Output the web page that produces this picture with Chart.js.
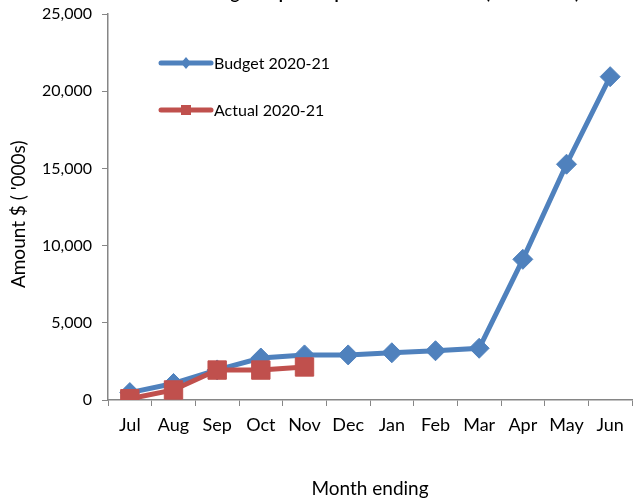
<!DOCTYPE html>
<html>
<head>
<meta charset="utf-8">
<script src="https://cdn.jsdelivr.net/npm/chart.js@4.4.1/dist/chart.umd.min.js"></script>
<style>
  html, body { margin: 0; padding: 0; background: #fff; overflow: hidden; }
  #wrap { width: 638px; height: 501px; overflow: hidden; }
</style>
</head>
<body>
<div id="wrap"><canvas id="capexChart" width="646" height="501"></canvas></div>
<script>
// chart data
const months = ["Jul", "Aug", "Sep", "Oct", "Nov", "Dec", "Jan", "Feb", "Mar", "Apr", "May", "Jun"];
const budget = [480, 1070, 1950, 2720, 2920, 2920, 3060, 3190, 3350, 9110, 15270, 20940];
const actual = [80, 650, 1940, 1940, 2140];
const yTicks = [0, 5000, 10000, 15000, 20000, 25000];

const titleText = "Budget Capital Expenditure vs Actual (Cumulative)";
const fontFamily = "Lato, 'Open Sans', sans-serif";

// title sits mostly above the canvas, only descenders show
const titlePlugin = {
  id: "cutTitle",
  afterDraw(chart) {
    const ctx = chart.ctx;
    ctx.save();
    ctx.font = "bold 17px " + fontFamily;
    ctx.fillStyle = "#000";
    ctx.textAlign = "center";
    ctx.textBaseline = "alphabetic";
    ctx.fillText(titleText, 390, -1);
    ctx.restore();
  }
};

// legend drawn inside plot area, like the original
const legendPlugin = {
  id: "innerLegend",
  afterDatasetsDraw(chart) {
    const ctx = chart.ctx;
    const rows = [{ idx: 0, y: 63 }, { idx: 1, y: 110 }];
    rows.forEach(r => {
      const ds = chart.data.datasets[r.idx];
      ctx.save();
      ctx.strokeStyle = ds.borderColor;
      ctx.lineWidth = 5;
      ctx.lineCap = "round";
      ctx.beginPath();
      ctx.moveTo(161, r.y);
      ctx.lineTo(211, r.y);
      ctx.stroke();
      ctx.fillStyle = ds.backgroundColor;
      ctx.beginPath();
      if (ds.pointStyle === "rectRot") {
        ctx.moveTo(186, r.y - 6);
        ctx.lineTo(191, r.y);
        ctx.lineTo(186, r.y + 6);
        ctx.lineTo(181, r.y);
        ctx.closePath();
      } else {
        ctx.rect(181, r.y - 5, 10, 10);
      }
      ctx.fill();
      ctx.fillStyle = "#000";
      ctx.font = "16px " + fontFamily;
      ctx.textAlign = "left";
      ctx.textBaseline = "middle";
      ctx.fillText(ds.label, 214, r.y + 1);
      ctx.restore();
    });
  }
};

const axisColor = "#868686";

new Chart(document.getElementById("capexChart"), {
  type: "line",
  data: {
    labels: months,
    datasets: [
      {
        label: "Budget 2020-21",
        data: budget,
        borderColor: "#4F81BD",
        backgroundColor: "#4F81BD",
        borderWidth: 5,
        pointStyle: "rectRot",
        pointRadius: 10,
        pointBorderWidth: 1,
        tension: 0,
        order: 1
      },
      {
        label: "Actual 2020-21",
        data: actual,
        borderColor: "#C0504D",
        backgroundColor: "#C0504D",
        borderWidth: 5,
        pointStyle: "rect",
        pointRadius: 13,
        pointBorderWidth: 1,
        tension: 0,
        order: 0
      }
    ]
  },
  options: {
    responsive: false,
    animation: false,
    layout: { padding: { top: 14, right: 5, left: 0, bottom: 0 } },
    plugins: {
      legend: { display: false },
      title: { display: false },
      tooltip: { enabled: false }
    },
    scales: {
      x: {
        type: "category",
        offset: true,
        grid: { offset: true, drawOnChartArea: false, tickLength: 6, color: axisColor },
        border: { color: axisColor, width: 1.5 },
        ticks: { color: "#000", font: { family: fontFamily, size: 18 }, padding: 8, maxRotation: 0, autoSkip: false },
        title: { display: true, text: "Month ending", color: "#000", font: { family: fontFamily, size: 19 }, padding: { top: 0, bottom: 1 } },
        afterFit(scale) {
          scale.height = 101;
          scale.paddingLeft = 0;
          scale.paddingRight = 0;
        }
      },
      y: {
        min: 0,
        max: 25000,
        afterBuildTicks(scale) { scale.ticks = yTicks.map(v => ({ value: v })); },
        grid: { drawOnChartArea: false, tickLength: 6, color: axisColor },
        border: { color: axisColor, width: 1.5 },
        ticks: {
          color: "#000",
          font: { family: fontFamily, size: 16 },
          padding: 10,
          callback: v => v.toLocaleString("en-US")
        },
        title: { display: true, text: "Amount $ ( '000s)   ", color: "#000", font: { family: fontFamily, size: 19 }, padding: { top: 7, bottom: 0 } },
        afterFit(scale) {
          scale.width = 108;
          scale.paddingTop = 0;
          scale.paddingBottom = 0;
        }
      }
    }
  },
  plugins: [titlePlugin, legendPlugin]
});
</script>
</body>
</html>
